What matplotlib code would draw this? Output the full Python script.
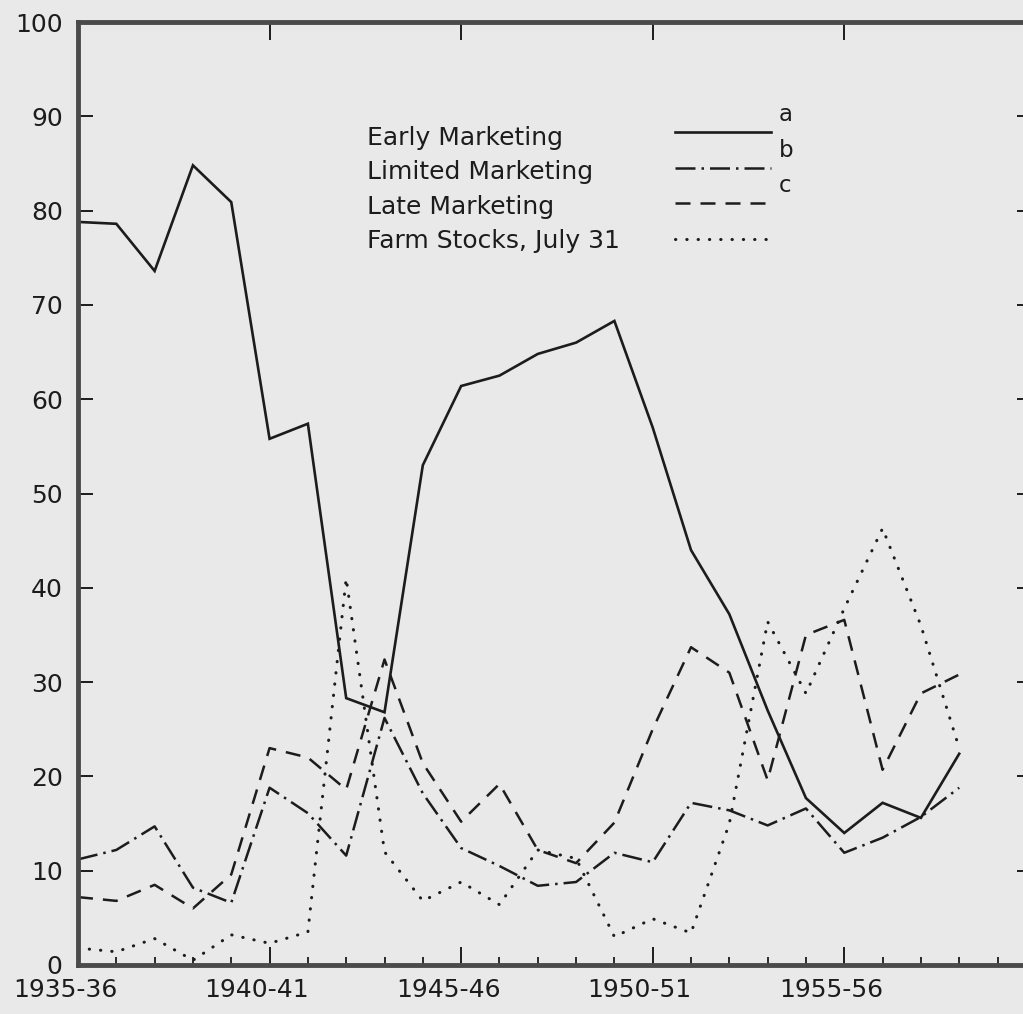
import matplotlib
matplotlib.use('Agg')
import matplotlib.pyplot as plt
from matplotlib.ticker import MultipleLocator
from matplotlib.transforms import ScaledTranslation

seasons = ["1935-36", "1936-37", "1937-38", "1938-39", "1939-40", "1940-41",
           "1941-42", "1942-43", "1943-44", "1944-45", "1945-46", "1946-47",
           "1947-48", "1948-49", "1949-50", "1950-51", "1951-52", "1952-53",
           "1953-54", "1954-55", "1955-56", "1956-57", "1957-58", "1958-59"]

early = [78.8, 78.6, 73.6, 84.8, 80.9, 55.8, 57.4, 28.3, 26.8, 53.0, 61.4, 62.5,
         64.8, 66.0, 68.3, 57.0, 44.0, 37.2, 27.0, 17.7, 14.0, 17.2, 15.6, 22.4]
limited = [11.2, 12.2, 14.7, 8.2, 6.6, 18.8, 16.1, 11.6, 26.2, 18.2, 12.4, 10.5,
           8.4, 8.8, 11.9, 10.9, 17.2, 16.4, 14.8, 16.6, 11.9, 13.5, 15.7, 18.8]
late = [7.2, 6.8, 8.5, 6.0, 9.6, 23.0, 22.0, 18.6, 32.4, 21.4, 15.2, 19.2,
        12.2, 10.8, 15.1, 25.0, 33.7, 31.0, 19.6, 35.0, 36.6, 20.7, 28.8, 30.8]
farm_stocks = [1.8, 1.4, 2.8, 0.5, 3.2, 2.3, 3.5, 41.0, 12.0, 6.8, 8.8, 6.4,
               12.2, 11.3, 3.0, 4.9, 3.4, 15.0, 36.4, 28.8, 37.8, 46.3, 36.0, 23.0]

series_names = ["Early Marketing", "Limited Marketing", "Late Marketing",
                "Farm Stocks, July 31"]
key_letters = ["a", "b", "c", ""]
labelled_seasons = [0, 5, 10, 15, 20]

INK = '#1c1c1c'
PAPER = '#e9e9e9'

fig = plt.figure(figsize=(10.23, 10.14), dpi=100, facecolor=PAPER)
# axes run past the right edge of the page, like the cropped scan
ax = fig.add_axes([78 / 1023, 49 / 1014, 954 / 1023, 943 / 1014])
ax.set_facecolor(PAPER)

x = range(len(seasons))
l1, = ax.plot(x, early, color=INK, lw=1.9, solid_joinstyle='miter')
l2, = ax.plot(x, limited, color=INK, lw=1.8, linestyle=(0, (8, 2.4, 1.0, 2.4)))
l3, = ax.plot(x, late, color=INK, lw=1.8, linestyle=(0, (6, 4)))
l4, = ax.plot(x, farm_stocks, color=INK, lw=2.2, linestyle=(0, (0.1, 3.6)),
              dash_capstyle='round')

ax.set_xlim(0, 24.9)
ax.set_ylim(0, 100)

ax.set_xticks(labelled_seasons)
ax.set_xticklabels([seasons[i] for i in labelled_seasons])
ax.xaxis.set_minor_locator(MultipleLocator(1))
ax.yaxis.set_major_locator(MultipleLocator(10))

ax.tick_params(axis='x', which='major', direction='in', length=13, width=1.4,
               top=True, bottom=True, pad=9.5, labelsize=18, colors=INK)
ax.tick_params(axis='x', which='minor', direction='in', length=6, width=1.3,
               top=False, bottom=True, colors=INK)
ax.tick_params(axis='y', direction='in', length=11, width=1.4, left=True,
               right=True, pad=11, labelsize=18, colors=INK)

# labels sit a little left of their ticks in the original
shift = ScaledTranslation(-13 / 100, 0, fig.dpi_scale_trans)
for lab in ax.get_xticklabels():
    lab.set_transform(lab.get_transform() + shift)

for s in ax.spines.values():
    s.set_linewidth(3.5)
    s.set_color('#4a4a4a')

# key: names on the left, line samples with letters on the right
ax.text(0.3030, 0.890, "\n".join(series_names), transform=ax.transAxes,
        ha='left', va='top', fontsize=18, color=INK, linespacing=1.55)

leg = ax.legend([l1, l2, l3, l4], key_letters, loc='upper left',
                bbox_to_anchor=(0.6255, 0.894), frameon=False, fontsize=16.5,
                handlelength=4.2, handletextpad=0.35, labelspacing=0.55,
                borderpad=0, borderaxespad=0)
lift = ScaledTranslation(0, 0.19, fig.dpi_scale_trans)
for t in leg.get_texts():
    t.set_color(INK)
    t.set_transform(t.get_transform() + lift)

fig.savefig('out.png', dpi=100, facecolor=PAPER)
